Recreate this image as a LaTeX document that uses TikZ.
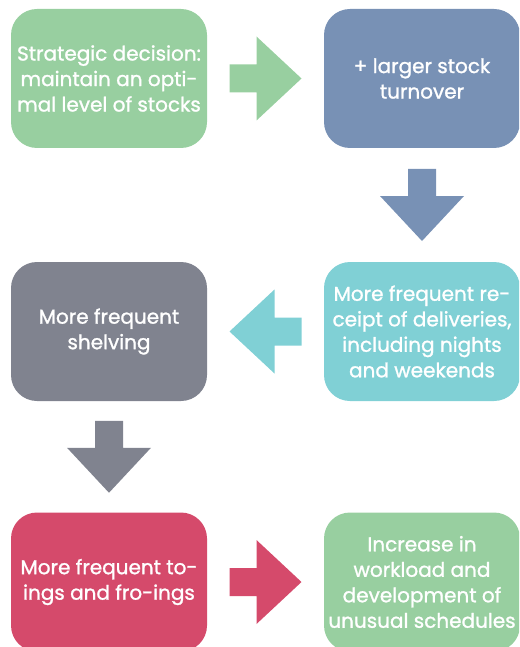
\documentclass[tikz,border=0pt]{standalone}
\usepackage{fontspec}
\setmainfont{Poppins}[FakeBold=1.2]
\usetikzlibrary{calc}
\definecolor{cgreen}{HTML}{98CFA0}
\definecolor{cblue}{HTML}{7891B5}
\definecolor{cgray}{HTML}{80838F}
\definecolor{cteal}{HTML}{80D0D5}
\definecolor{cred}{HTML}{D54A6B}
\newcommand{\blkarrow}[3]{%
  \fill[#3,shift={#1},rotate=#2] (-36,-14) -- (-9,-14) -- (-9,-42) -- (36,0) -- (-9,42) -- (-9,14) -- (-36,14) -- cycle;}
\begin{document}
\begin{tikzpicture}[x=1pt,y=-1pt,
  box/.style={rectangle,rounded corners=26pt,minimum width=196pt,minimum height=139pt,
    text=white,align=center,font=\fontsize{20}{25.5}\selectfont,inner sep=0pt}]
\useasboundingbox (0,0) rectangle (519,647);
\begin{scope}
\clip (0,0) rectangle (519,647);
\node[box,fill=cgreen] (a) at (109,78.5) {Strategic decision:\\maintain an opti-\\mal level of stocks};
\node[box,fill=cblue] (b) at (422,78.5) {+ larger stock\\turnover};
\node[box,fill=cteal] (c) at (422,331.5) {More frequent re-\\ceipt of deliveries,\\including nights\\and weekends};
\node[box,fill=cgray] (d) at (109,331.5) {More frequent\\shelving};
\node[box,fill=cred] (e) at (109,582) {More frequent to-\\ings and fro-ings};
\node[box,fill=cgreen] (f) at (422,582) {Increase in\\workload and\\development of\\unusual schedules};
\blkarrow{($(a.east)!0.5!(b.west)$)}{0}{cgreen}
\blkarrow{($(b.south)!0.5!(c.north)$)}{-90}{cblue}
\blkarrow{($(c.west)!0.5!(d.east)$)}{180}{cteal}
\blkarrow{($(d.south)!0.5!(e.north)$)}{-90}{cgray}
\blkarrow{($(e.east)!0.5!(f.west)$)}{0}{cred}
\end{scope}
\end{tikzpicture}
\end{document}
